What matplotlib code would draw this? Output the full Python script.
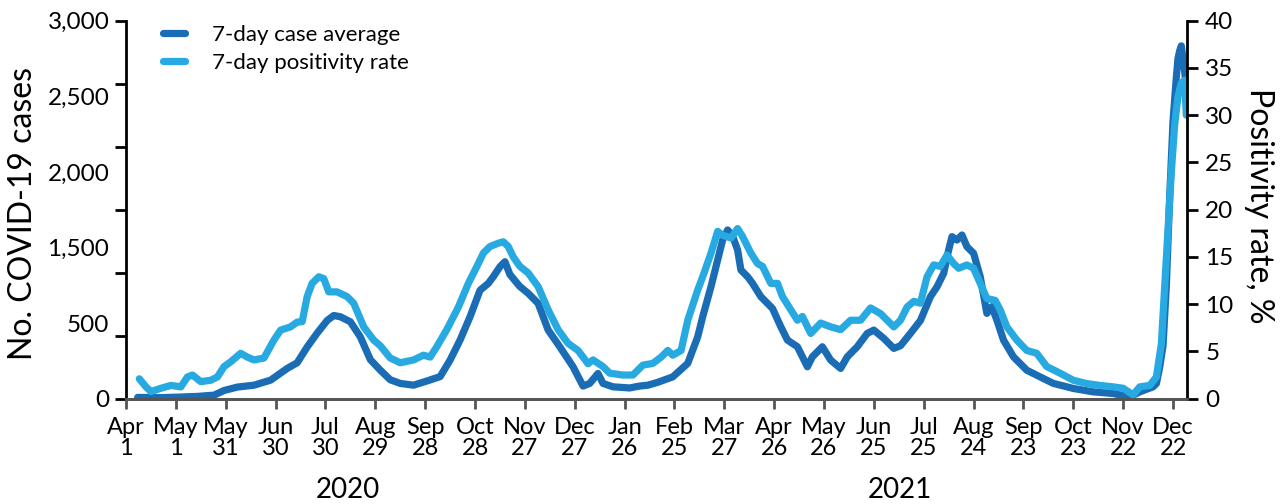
import numpy as np
import pandas as pd
import matplotlib
matplotlib.use("Agg")
import matplotlib.pyplot as plt
from matplotlib.ticker import FixedLocator

plt.rcParams['font.family'] = ['Lato', 'DejaVu Sans']

# days since 1 April 2020
case_days = [7, 20, 31, 43, 53, 59, 67, 77, 87, 97, 103, 109, 115, 121, 125, 129, 135, 141, 147,
             153, 159, 165, 173, 181, 189, 195, 201, 207, 213, 218, 221, 225, 228, 231, 237, 242,
             248, 254, 261, 269, 275, 279, 284, 287, 293, 303, 309, 314, 320, 329, 338, 344, 347,
             352, 356, 359, 362, 365, 368, 370, 374, 377, 382, 386, 389, 394, 398, 404, 410, 413,
             419, 424, 430, 434, 440, 446, 450, 456, 462, 466, 472, 478, 484, 488, 492, 495, 497,
             500, 503, 506, 510, 514, 518, 521, 524, 528, 534, 542, 550, 558, 570, 582, 594, 604,
             610, 618, 620, 622, 624, 626, 628, 630, 632, 633, 634, 635, 636, 637, 638]
cases = [10, 8, 12, 18, 28, 65, 92, 107, 147, 240, 285, 410, 520, 620, 660, 650, 610, 490, 310,
         226, 150, 121, 107, 140, 175, 306, 465, 650, 860, 915, 968, 1047, 1087, 985, 890, 836,
         756, 545, 412, 253, 100, 121, 200, 121, 94, 85, 100, 107, 130, 173, 280, 491, 650,
         889, 1101, 1259, 1339, 1290, 1180, 1021, 968, 915, 809, 756, 716, 571, 465, 412, 253, 332,
         412, 306, 240, 332, 412, 518, 544, 478, 399, 420, 518, 620, 809, 888, 995, 1180, 1286,
         1259, 1299, 1206, 1154, 968, 677, 730, 624, 465, 332, 226, 173, 121, 81, 54, 41, 14,
         54, 94, 120, 250, 420, 900, 1600, 2200, 2550, 2700, 2760, 2800, 2700, 2600, 2450]

pos_days = [8, 12, 15, 21, 27, 33, 37, 40, 45, 51, 55, 59, 63, 69, 73, 77, 83, 89, 93, 99, 103,
            106, 109, 112, 116, 119, 122, 127, 133, 137, 143, 149, 153, 159, 165, 173, 179, 183,
            187, 193, 200, 206, 212, 215, 219, 224, 227, 230, 233, 237, 242, 248, 254, 260, 266,
            272, 278, 281, 287, 291, 299, 305, 311, 317, 322, 326, 329, 334, 338, 344, 347, 352,
            356, 359, 364, 368, 371, 376, 380, 383, 388, 392, 395, 400, 404, 407, 412, 418, 424,
            430, 436, 442, 448, 454, 462, 466, 470, 474, 478, 482, 486, 490, 494, 498, 501, 506,
            510, 514, 518, 523, 526, 530, 536, 542, 548, 554, 562, 570, 578, 586, 594, 600, 606,
            610, 616, 620, 623, 626, 629, 631, 633, 635, 637, 638]
positivity = [2.1, 1.25, 0.75, 1.1, 1.4, 1.25, 2.3, 2.5, 1.8, 1.95, 2.3, 3.4, 3.9, 4.8, 4.4, 4.1,
              4.3, 6.2, 7.25, 7.6, 8.1, 8.15, 10.8, 12.2, 12.9, 12.7, 11.3, 11.3, 10.8, 10.1, 7.6,
              6.2, 5.6, 4.3, 3.8, 4.1, 4.6, 4.4, 5.5, 7.3, 9.7, 12.2, 14.3, 15.4, 16.1, 16.45,
              16.6, 16.1, 15.0, 14.0, 13.3, 11.85, 9.4, 7.3, 5.85, 5.1, 3.7, 4.1, 3.4, 2.7, 2.5,
              2.5, 3.55, 3.73, 4.4, 5.1, 4.6, 5.1, 8.3, 11.5, 12.9, 15.4, 17.7, 17.3, 17.0, 18.0,
              17.15, 15.4, 14.3, 14.0, 12.2, 12.2, 10.8, 9.4, 8.3, 8.7, 6.9, 8.0, 7.6, 7.3, 8.3,
              8.3, 9.6, 9.0, 7.6, 8.3, 9.7, 10.3, 10.1, 12.9, 14.15, 14.0, 15.2, 14.3, 13.8,
              14.15, 13.8, 12.2, 10.6, 10.4, 9.4, 7.6, 6.2, 5.1, 4.8, 3.4, 2.7, 1.95, 1.6, 1.4,
              1.25, 1.1, 0.4, 1.25, 1.4, 2.3, 5.8, 15, 24, 29, 32, 33.4, 33.7, 30]

# left axis labels as printed (spaced evenly, not on the ticks)
case_labels = ['0', '500', '1,500', '2,000', '2,500', '3,000']

start = pd.Timestamp('2020-04-01')
case_dates = start + pd.to_timedelta(case_days, unit='D')
pos_dates = start + pd.to_timedelta(pos_days, unit='D')
tick_dates = start + pd.to_timedelta(np.arange(0, 631, 30), unit='D')
tick_labels = [f'{d:%b}\n{d.day}' for d in tick_dates]

dark = '#1a6db5'
light = '#27a9e1'

fig = plt.figure(figsize=(12.82, 5.04), dpi=100)
ax = fig.add_axes([0.0983, 0.209, 0.8277, 0.75])
ax2 = ax.twinx()

l1, = ax.plot(case_dates, cases, color=dark, lw=5.2, solid_capstyle='round', solid_joinstyle='round')
l2, = ax2.plot(pos_dates, positivity, color=light, lw=5.2, solid_capstyle='round', solid_joinstyle='round')

ax.set_xlim(start, start + pd.Timedelta(days=638.5))
ax.set_ylim(0, 3000)
ax2.set_ylim(0, 40)

# left axis: tick marks every 500, labels placed like the original
ax.yaxis.remove_overlapping_locs = False
ax.yaxis.set_major_locator(FixedLocator(np.linspace(0, 3000, 6)))
ax.set_yticklabels(case_labels)
ax.yaxis.set_minor_locator(FixedLocator(np.arange(0, 3001, 500)))
ax.tick_params(axis='y', which='major', length=0, pad=12, labelsize=17.5)
ax.tick_params(axis='y', which='minor', length=8, width=2, color='black')

ax2.set_yticks(np.arange(0, 41, 5))
ax2.tick_params(axis='y', length=8, width=2, pad=5, labelsize=17.5)

ax.set_xticks(tick_dates)
ax.set_xticklabels(tick_labels)
ax.tick_params(axis='x', length=7, width=2, color='#555555', pad=6, labelsize=17)
for t in ax.get_xticklabels():
    t.set_linespacing(1.0)

for a in (ax, ax2):
    a.spines['top'].set_visible(False)
    a.spines['left'].set_linewidth(2)
    a.spines['right'].set_linewidth(2)
    a.spines['bottom'].set_linewidth(2)
    a.spines['bottom'].set_color('#555555')
ax.spines['right'].set_visible(False)
ax2.spines['left'].set_visible(False)

fig.text(23 / 1282, 1 - 213 / 504, 'No. COVID-19 cases', rotation=90,
         ha='center', va='center', fontsize=23)
fig.text(1259 / 1282, 1 - 206 / 504, 'Positivity rate, %', rotation=270,
         ha='center', va='center', fontsize=23)

fig.text(348 / 1282, 1 - 490 / 504, '2020', ha='center', va='center', fontsize=20)
fig.text(900 / 1282, 1 - 490 / 504, '2021', ha='center', va='center', fontsize=20)

fig.legend([l1, l2], ['7-day case average', '7-day positivity rate'], loc='upper left',
           bbox_to_anchor=(163 / 1282, 1 - 25 / 504), bbox_transform=fig.transFigure,
           frameon=False, fontsize=16, handlelength=1.0, handletextpad=1.2,
           labelspacing=0.35, borderpad=0, borderaxespad=0)

fig.savefig('out.png', dpi=100)
